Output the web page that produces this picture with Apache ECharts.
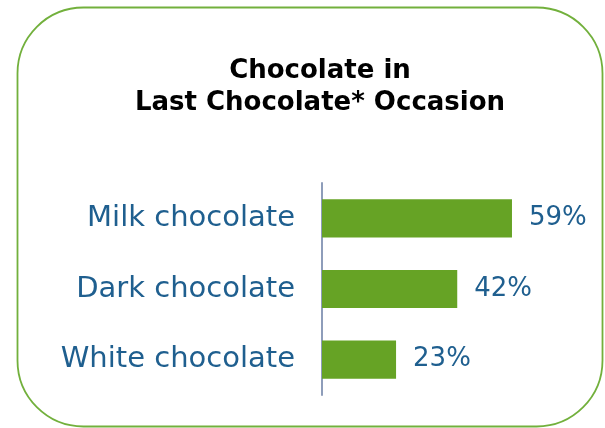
<!DOCTYPE html>
<html>
<head>
<meta charset="utf-8">
<script src="https://cdn.jsdelivr.net/npm/echarts@6/dist/echarts.min.js"></script>
<style>
  html, body { margin: 0; padding: 0; background: #ffffff; }
  #chart { width: 605px; height: 428px; }
</style>
</head>
<body>
<div id="chart"></div>
<script>
// Chocolate types and share (%) in the last chocolate occasion
const categories = ['Milk chocolate', 'Dark chocolate', 'White chocolate'];
const shares = [59, 42, 23];
const titleLines = ['Chocolate in', 'Last Chocolate* Occasion'];

const chart = echarts.init(document.getElementById('chart'), null, { renderer: 'canvas' });

chart.setOption({
  animation: false,
  backgroundColor: '#ffffff',
  title: {
    text: titleLines.join('\n'),
    left: 315,
    top: 50,
    textAlign: 'center',
    textStyle: {
      fontFamily: 'DejaVu Sans',
      fontWeight: 'bold',
      fontSize: 26,
      lineHeight: 32,
      color: '#000000'
    }
  },
  graphic: [{
    type: 'rect',
    shape: { x: 17.5, y: 7.5, width: 585, height: 419, r: 66 },
    style: { fill: 'none', stroke: '#72b03c', lineWidth: 1.8 },
    silent: true,
    z: 0
  }],
  grid: { left: 322, top: 183, width: 257.6, height: 212 },
  xAxis: {
    type: 'value',
    min: 0,
    max: 80,
    show: false
  },
  yAxis: {
    type: 'category',
    data: categories,
    inverse: true,
    axisLine: { show: true, lineStyle: { color: '#8e9dba', width: 2 } },
    axisTick: { show: false },
    axisLabel: {
      margin: 27,
      fontFamily: 'DejaVu Sans',
      fontSize: 29,
      color: '#1f5f8f'
    }
  },
  series: [{
    type: 'bar',
    data: shares,
    barCategoryGap: '46%',
    itemStyle: { color: '#66a325' },
    label: {
      show: true,
      position: 'right',
      distance: 17,
      formatter: p => p.value + '%',
      fontFamily: 'DejaVu Sans',
      fontSize: 26,
      color: '#1f5f8f'
    }
  }]
});
</script>
</body>
</html>
